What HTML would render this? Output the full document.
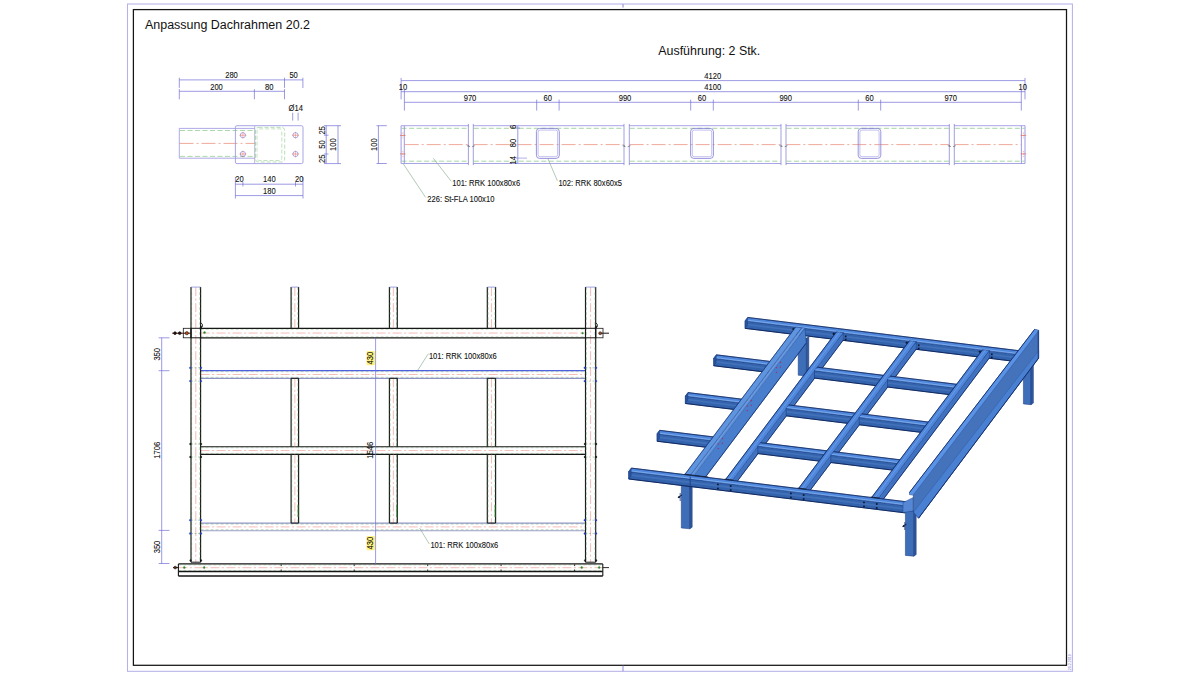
<!DOCTYPE html>
<html><head><meta charset="utf-8"><title>Anpassung Dachrahmen 20.2</title>
<style>
html,body{margin:0;padding:0;background:#fff;overflow:hidden}
svg{display:block;font-family:"Liberation Sans",sans-serif}
</style></head><body>
<svg width="1200" height="675" viewBox="0 0 1200 675">
<rect width="1200" height="675" fill="#fff"/>
<rect x="127.50" y="4.00" width="944.90" height="667.30" rx="0" fill="none" stroke="#b6b1e8" stroke-width="1.05"/>
<rect x="133.40" y="9.60" width="933.10" height="655.70" rx="0" fill="none" stroke="#151515" stroke-width="1.25"/>
<line x1="623.00" y1="665.60" x2="623.00" y2="671.20" stroke="#8f89d8" stroke-width="1.0"/>
<line x1="623.00" y1="4.00" x2="623.00" y2="7.60" stroke="#8f89d8" stroke-width="1.0"/>
<text transform="translate(1070.70 670.20) rotate(-90)" font-size="3.6" text-anchor="start" fill="#6f68cc">20.2.2019</text>
<text transform="translate(145.00 29.20)" font-size="12.48" text-anchor="start" fill="#111">Anpassung Dachrahmen 20.2</text>
<text transform="translate(658.30 55.00)" font-size="12.4" text-anchor="start" fill="#111">Ausf&#252;hrung: 2 Stk.</text>
<line x1="179.30" y1="79.90" x2="284.50" y2="79.90" stroke="#6f6ad6" stroke-width="0.68"/>
<line x1="179.30" y1="77.70" x2="179.30" y2="87.90" stroke="#6f6ad6" stroke-width="0.68"/>
<line x1="284.50" y1="77.70" x2="284.50" y2="87.90" stroke="#6f6ad6" stroke-width="0.68"/>
<line x1="284.50" y1="79.90" x2="302.90" y2="79.90" stroke="#6f6ad6" stroke-width="0.68"/>
<line x1="302.90" y1="77.70" x2="302.90" y2="88.00" stroke="#6f6ad6" stroke-width="0.68"/>
<text transform="translate(231.50 78.20) scale(0.853 1)" font-size="8.9" text-anchor="middle" fill="#111" stroke="#111" stroke-width="0.1">280</text>
<text transform="translate(293.60 78.20) scale(0.853 1)" font-size="8.9" text-anchor="middle" fill="#111" stroke="#111" stroke-width="0.1">50</text>
<line x1="179.30" y1="91.30" x2="284.50" y2="91.30" stroke="#6f6ad6" stroke-width="0.68"/>
<line x1="179.30" y1="89.10" x2="179.30" y2="99.30" stroke="#6f6ad6" stroke-width="0.68"/>
<line x1="284.50" y1="89.10" x2="284.50" y2="99.30" stroke="#6f6ad6" stroke-width="0.68"/>
<line x1="254.40" y1="89.10" x2="254.40" y2="99.30" stroke="#6f6ad6" stroke-width="0.68"/>
<text transform="translate(216.50 89.60) scale(0.853 1)" font-size="8.9" text-anchor="middle" fill="#111" stroke="#111" stroke-width="0.1">200</text>
<text transform="translate(269.30 89.60) scale(0.853 1)" font-size="8.9" text-anchor="middle" fill="#111" stroke="#111" stroke-width="0.1">80</text>
<text transform="translate(295.70 110.80) scale(0.853 1)" font-size="8.9" text-anchor="middle" fill="#111" stroke="#111" stroke-width="0.1">&#216;14</text>
<line x1="292.70" y1="112.70" x2="292.70" y2="120.60" stroke="#6f6ad6" stroke-width="0.68"/>
<line x1="298.10" y1="112.70" x2="298.10" y2="120.60" stroke="#6f6ad6" stroke-width="0.68"/>
<line x1="179.30" y1="128.40" x2="254.70" y2="128.40" stroke="#928de0" stroke-width="0.75"/>
<line x1="179.30" y1="158.20" x2="254.70" y2="158.20" stroke="#928de0" stroke-width="0.75"/>
<line x1="179.30" y1="128.40" x2="179.30" y2="158.20" stroke="#928de0" stroke-width="0.75"/>
<line x1="180.00" y1="130.50" x2="255.00" y2="130.50" stroke="#4fae4a" stroke-width="0.6" stroke-dasharray="5 2.5" stroke-opacity="0.8"/>
<line x1="180.00" y1="156.40" x2="255.00" y2="156.40" stroke="#4fae4a" stroke-width="0.6" stroke-dasharray="5 2.5" stroke-opacity="0.8"/>
<line x1="179.50" y1="143.40" x2="255.00" y2="143.40" stroke="#e0563a" stroke-width="0.6" stroke-dasharray="14 3 2 3" stroke-opacity="0.85"/>
<rect x="235.40" y="125.70" width="67.60" height="37.90" rx="1.6" fill="none" stroke="#9a95e2" stroke-width="0.85"/>
<line x1="254.70" y1="126.00" x2="254.70" y2="163.30" stroke="#9a98c8" stroke-width="0.7"/>
<rect x="255.50" y="127.40" width="29.20" height="34.60" rx="3" fill="none" stroke="#4fae4a" stroke-width="0.5" stroke-dasharray="4 2" stroke-opacity="0.8"/>
<rect x="257.00" y="128.90" width="24.80" height="31.60" rx="2.2" fill="none" stroke="#4fae4a" stroke-width="0.5" stroke-dasharray="4 2" stroke-opacity="0.7"/>
<circle cx="242.90" cy="135.20" r="2.6" fill="none" stroke="#7a74d8" stroke-width="0.6"/>
<line x1="239.50" y1="135.20" x2="246.30" y2="135.20" stroke="#e0563a" stroke-width="0.5"/>
<line x1="242.90" y1="131.80" x2="242.90" y2="138.60" stroke="#e0563a" stroke-width="0.5" stroke-opacity="0.7"/>
<circle cx="242.90" cy="154.00" r="2.6" fill="none" stroke="#7a74d8" stroke-width="0.6"/>
<line x1="239.50" y1="154.00" x2="246.30" y2="154.00" stroke="#e0563a" stroke-width="0.5"/>
<line x1="242.90" y1="150.60" x2="242.90" y2="157.40" stroke="#e0563a" stroke-width="0.5" stroke-opacity="0.7"/>
<circle cx="295.50" cy="135.20" r="2.6" fill="none" stroke="#7a74d8" stroke-width="0.6"/>
<line x1="292.10" y1="135.20" x2="298.90" y2="135.20" stroke="#e0563a" stroke-width="0.5"/>
<line x1="295.50" y1="131.80" x2="295.50" y2="138.60" stroke="#e0563a" stroke-width="0.5" stroke-opacity="0.7"/>
<circle cx="295.50" cy="154.00" r="2.6" fill="none" stroke="#7a74d8" stroke-width="0.6"/>
<line x1="292.10" y1="154.00" x2="298.90" y2="154.00" stroke="#e0563a" stroke-width="0.5"/>
<line x1="295.50" y1="150.60" x2="295.50" y2="157.40" stroke="#e0563a" stroke-width="0.5" stroke-opacity="0.7"/>
<line x1="324.00" y1="125.70" x2="341.00" y2="125.70" stroke="#6f6ad6" stroke-width="0.68"/>
<line x1="324.00" y1="163.60" x2="341.00" y2="163.60" stroke="#6f6ad6" stroke-width="0.68"/>
<line x1="326.20" y1="125.70" x2="326.20" y2="163.60" stroke="#6f6ad6" stroke-width="0.68"/>
<line x1="338.00" y1="125.70" x2="338.00" y2="163.60" stroke="#6f6ad6" stroke-width="0.68"/>
<line x1="324.00" y1="135.20" x2="328.50" y2="135.20" stroke="#6f6ad6" stroke-width="0.68"/>
<line x1="324.00" y1="154.00" x2="328.50" y2="154.00" stroke="#6f6ad6" stroke-width="0.68"/>
<text transform="translate(324.60 130.40) rotate(-90) scale(0.853 1)" font-size="8.9" text-anchor="middle" fill="#111" stroke="#111" stroke-width="0.1">25</text>
<text transform="translate(324.60 144.60) rotate(-90) scale(0.853 1)" font-size="8.9" text-anchor="middle" fill="#111" stroke="#111" stroke-width="0.1">50</text>
<text transform="translate(324.60 158.80) rotate(-90) scale(0.853 1)" font-size="8.9" text-anchor="middle" fill="#111" stroke="#111" stroke-width="0.1">25</text>
<text transform="translate(336.30 144.60) rotate(-90) scale(0.853 1)" font-size="8.9" text-anchor="middle" fill="#111" stroke="#111" stroke-width="0.1">100</text>
<line x1="235.40" y1="184.20" x2="303.00" y2="184.20" stroke="#6f6ad6" stroke-width="0.68"/>
<line x1="235.40" y1="177.00" x2="235.40" y2="198.50" stroke="#6f6ad6" stroke-width="0.68"/>
<line x1="303.00" y1="177.00" x2="303.00" y2="198.50" stroke="#6f6ad6" stroke-width="0.68"/>
<line x1="242.90" y1="182.00" x2="242.90" y2="186.50" stroke="#6f6ad6" stroke-width="0.68"/>
<line x1="295.50" y1="182.00" x2="295.50" y2="186.50" stroke="#6f6ad6" stroke-width="0.68"/>
<text transform="translate(239.40 182.40) scale(0.853 1)" font-size="8.9" text-anchor="middle" fill="#111" stroke="#111" stroke-width="0.1">20</text>
<text transform="translate(269.40 182.40) scale(0.853 1)" font-size="8.9" text-anchor="middle" fill="#111" stroke="#111" stroke-width="0.1">140</text>
<text transform="translate(299.20 182.40) scale(0.853 1)" font-size="8.9" text-anchor="middle" fill="#111" stroke="#111" stroke-width="0.1">20</text>
<line x1="235.40" y1="195.60" x2="303.00" y2="195.60" stroke="#6f6ad6" stroke-width="0.68"/>
<text transform="translate(269.40 193.80) scale(0.853 1)" font-size="8.9" text-anchor="middle" fill="#111" stroke="#111" stroke-width="0.1">180</text>
<line x1="401.10" y1="80.60" x2="1025.00" y2="80.60" stroke="#6f6ad6" stroke-width="0.68"/>
<line x1="401.10" y1="77.90" x2="401.10" y2="99.40" stroke="#6f6ad6" stroke-width="0.68"/>
<line x1="1025.00" y1="77.90" x2="1025.00" y2="99.40" stroke="#6f6ad6" stroke-width="0.68"/>
<text transform="translate(712.70 78.90) scale(0.853 1)" font-size="8.9" text-anchor="middle" fill="#111" stroke="#111" stroke-width="0.1">4120</text>
<line x1="401.10" y1="91.70" x2="1025.00" y2="91.70" stroke="#6f6ad6" stroke-width="0.68"/>
<text transform="translate(712.70 90.20) scale(0.853 1)" font-size="8.9" text-anchor="middle" fill="#111" stroke="#111" stroke-width="0.1">4100</text>
<text transform="translate(402.90 90.20) scale(0.853 1)" font-size="8.9" text-anchor="middle" fill="#111" stroke="#111" stroke-width="0.1">10</text>
<text transform="translate(1022.70 90.20) scale(0.853 1)" font-size="8.9" text-anchor="middle" fill="#111" stroke="#111" stroke-width="0.1">10</text>
<line x1="404.40" y1="89.00" x2="404.40" y2="110.60" stroke="#6f6ad6" stroke-width="0.68"/>
<line x1="1021.30" y1="89.00" x2="1021.30" y2="110.60" stroke="#6f6ad6" stroke-width="0.68"/>
<line x1="404.40" y1="102.30" x2="1021.30" y2="102.30" stroke="#6f6ad6" stroke-width="0.68"/>
<line x1="536.70" y1="99.60" x2="536.70" y2="110.60" stroke="#6f6ad6" stroke-width="0.68"/>
<line x1="559.10" y1="99.60" x2="559.10" y2="110.60" stroke="#6f6ad6" stroke-width="0.68"/>
<line x1="690.70" y1="99.60" x2="690.70" y2="110.60" stroke="#6f6ad6" stroke-width="0.68"/>
<line x1="713.30" y1="99.60" x2="713.30" y2="110.60" stroke="#6f6ad6" stroke-width="0.68"/>
<line x1="858.30" y1="99.60" x2="858.30" y2="110.60" stroke="#6f6ad6" stroke-width="0.68"/>
<line x1="880.70" y1="99.60" x2="880.70" y2="110.60" stroke="#6f6ad6" stroke-width="0.68"/>
<text transform="translate(470.00 100.70) scale(0.853 1)" font-size="8.9" text-anchor="middle" fill="#111" stroke="#111" stroke-width="0.1">970</text>
<text transform="translate(547.80 100.70) scale(0.853 1)" font-size="8.9" text-anchor="middle" fill="#111" stroke="#111" stroke-width="0.1">60</text>
<text transform="translate(625.00 100.70) scale(0.853 1)" font-size="8.9" text-anchor="middle" fill="#111" stroke="#111" stroke-width="0.1">990</text>
<text transform="translate(702.00 100.70) scale(0.853 1)" font-size="8.9" text-anchor="middle" fill="#111" stroke="#111" stroke-width="0.1">60</text>
<text transform="translate(785.70 100.70) scale(0.853 1)" font-size="8.9" text-anchor="middle" fill="#111" stroke="#111" stroke-width="0.1">990</text>
<text transform="translate(869.40 100.70) scale(0.853 1)" font-size="8.9" text-anchor="middle" fill="#111" stroke="#111" stroke-width="0.1">60</text>
<text transform="translate(950.70 100.70) scale(0.853 1)" font-size="8.9" text-anchor="middle" fill="#111" stroke="#111" stroke-width="0.1">970</text>
<line x1="401.10" y1="125.70" x2="468.40" y2="125.70" stroke="#928de0" stroke-width="0.8"/>
<line x1="401.10" y1="163.50" x2="468.40" y2="163.50" stroke="#928de0" stroke-width="0.8"/>
<line x1="401.60" y1="128.30" x2="467.90" y2="128.30" stroke="#4fae4a" stroke-width="0.6" stroke-dasharray="5 2.5" stroke-opacity="0.85"/>
<line x1="401.60" y1="161.20" x2="467.90" y2="161.20" stroke="#4fae4a" stroke-width="0.6" stroke-dasharray="5 2.5" stroke-opacity="0.85"/>
<line x1="404.70" y1="144.60" x2="468.10" y2="144.60" stroke="#e0563a" stroke-width="0.6" stroke-dasharray="14 3 2 3" stroke-opacity="0.85"/>
<line x1="473.30" y1="125.70" x2="624.00" y2="125.70" stroke="#928de0" stroke-width="0.8"/>
<line x1="473.30" y1="163.50" x2="624.00" y2="163.50" stroke="#928de0" stroke-width="0.8"/>
<line x1="473.80" y1="128.30" x2="623.50" y2="128.30" stroke="#4fae4a" stroke-width="0.6" stroke-dasharray="5 2.5" stroke-opacity="0.85"/>
<line x1="473.80" y1="161.20" x2="623.50" y2="161.20" stroke="#4fae4a" stroke-width="0.6" stroke-dasharray="5 2.5" stroke-opacity="0.85"/>
<line x1="473.60" y1="144.60" x2="623.70" y2="144.60" stroke="#e0563a" stroke-width="0.6" stroke-dasharray="14 3 2 3" stroke-opacity="0.85"/>
<line x1="629.30" y1="125.70" x2="781.00" y2="125.70" stroke="#928de0" stroke-width="0.8"/>
<line x1="629.30" y1="163.50" x2="781.00" y2="163.50" stroke="#928de0" stroke-width="0.8"/>
<line x1="629.80" y1="128.30" x2="780.50" y2="128.30" stroke="#4fae4a" stroke-width="0.6" stroke-dasharray="5 2.5" stroke-opacity="0.85"/>
<line x1="629.80" y1="161.20" x2="780.50" y2="161.20" stroke="#4fae4a" stroke-width="0.6" stroke-dasharray="5 2.5" stroke-opacity="0.85"/>
<line x1="629.60" y1="144.60" x2="780.70" y2="144.60" stroke="#e0563a" stroke-width="0.6" stroke-dasharray="14 3 2 3" stroke-opacity="0.85"/>
<line x1="786.00" y1="125.70" x2="949.30" y2="125.70" stroke="#928de0" stroke-width="0.8"/>
<line x1="786.00" y1="163.50" x2="949.30" y2="163.50" stroke="#928de0" stroke-width="0.8"/>
<line x1="786.50" y1="128.30" x2="948.80" y2="128.30" stroke="#4fae4a" stroke-width="0.6" stroke-dasharray="5 2.5" stroke-opacity="0.85"/>
<line x1="786.50" y1="161.20" x2="948.80" y2="161.20" stroke="#4fae4a" stroke-width="0.6" stroke-dasharray="5 2.5" stroke-opacity="0.85"/>
<line x1="786.30" y1="144.60" x2="949.00" y2="144.60" stroke="#e0563a" stroke-width="0.6" stroke-dasharray="14 3 2 3" stroke-opacity="0.85"/>
<line x1="954.30" y1="125.70" x2="1025.00" y2="125.70" stroke="#928de0" stroke-width="0.8"/>
<line x1="954.30" y1="163.50" x2="1025.00" y2="163.50" stroke="#928de0" stroke-width="0.8"/>
<line x1="954.80" y1="128.30" x2="1024.50" y2="128.30" stroke="#4fae4a" stroke-width="0.6" stroke-dasharray="5 2.5" stroke-opacity="0.85"/>
<line x1="954.80" y1="161.20" x2="1024.50" y2="161.20" stroke="#4fae4a" stroke-width="0.6" stroke-dasharray="5 2.5" stroke-opacity="0.85"/>
<line x1="954.60" y1="144.60" x2="1021.00" y2="144.60" stroke="#e0563a" stroke-width="0.6" stroke-dasharray="14 3 2 3" stroke-opacity="0.85"/>
<line x1="468.40" y1="123.90" x2="468.40" y2="165.20" stroke="#7a76d2" stroke-width="0.7"/>
<line x1="473.30" y1="123.90" x2="473.30" y2="165.20" stroke="#7a76d2" stroke-width="0.7"/>
<line x1="624.00" y1="123.90" x2="624.00" y2="165.20" stroke="#7a76d2" stroke-width="0.7"/>
<line x1="629.30" y1="123.90" x2="629.30" y2="165.20" stroke="#7a76d2" stroke-width="0.7"/>
<line x1="781.00" y1="123.90" x2="781.00" y2="165.20" stroke="#7a76d2" stroke-width="0.7"/>
<line x1="786.00" y1="123.90" x2="786.00" y2="165.20" stroke="#7a76d2" stroke-width="0.7"/>
<line x1="949.30" y1="123.90" x2="949.30" y2="165.20" stroke="#7a76d2" stroke-width="0.7"/>
<line x1="954.30" y1="123.90" x2="954.30" y2="165.20" stroke="#7a76d2" stroke-width="0.7"/>
<path d="M466.9 145.6 L469.59999999999997 146.6 L468.7 145.4 M472.09999999999997 146.8 L474.79999999999995 145.6" fill="none" stroke="#333" stroke-width="0.5"/>
<path d="M622.5 145.6 L625.2 146.6 L624.3 145.4 M627.7 146.8 L630.4 145.6" fill="none" stroke="#333" stroke-width="0.5"/>
<path d="M779.5 145.6 L782.2 146.6 L781.3 145.4 M784.7 146.8 L787.4 145.6" fill="none" stroke="#333" stroke-width="0.5"/>
<path d="M947.8 145.6 L950.5 146.6 L949.5999999999999 145.4 M953.0 146.8 L955.6999999999999 145.6" fill="none" stroke="#333" stroke-width="0.5"/>
<line x1="401.10" y1="125.70" x2="401.10" y2="163.50" stroke="#928de0" stroke-width="0.9"/>
<line x1="404.30" y1="125.70" x2="404.30" y2="163.50" stroke="#928de0" stroke-width="0.9"/>
<line x1="1025.00" y1="125.70" x2="1025.00" y2="163.50" stroke="#928de0" stroke-width="0.9"/>
<line x1="1021.40" y1="125.70" x2="1021.40" y2="163.50" stroke="#928de0" stroke-width="0.9"/>
<line x1="400.00" y1="135.40" x2="405.60" y2="135.40" stroke="#e0563a" stroke-width="0.6"/>
<line x1="402.80" y1="132.40" x2="402.80" y2="138.40" stroke="#e0563a" stroke-width="0.5" stroke-dasharray="1.5 1" stroke-opacity="0.8"/>
<line x1="400.00" y1="153.90" x2="405.60" y2="153.90" stroke="#e0563a" stroke-width="0.6"/>
<line x1="402.80" y1="150.90" x2="402.80" y2="156.90" stroke="#e0563a" stroke-width="0.5" stroke-dasharray="1.5 1" stroke-opacity="0.8"/>
<line x1="1020.60" y1="135.40" x2="1026.20" y2="135.40" stroke="#e0563a" stroke-width="0.6"/>
<line x1="1023.40" y1="132.40" x2="1023.40" y2="138.40" stroke="#e0563a" stroke-width="0.5" stroke-dasharray="1.5 1" stroke-opacity="0.8"/>
<line x1="1020.60" y1="153.90" x2="1026.20" y2="153.90" stroke="#e0563a" stroke-width="0.6"/>
<line x1="1023.40" y1="150.90" x2="1023.40" y2="156.90" stroke="#e0563a" stroke-width="0.5" stroke-dasharray="1.5 1" stroke-opacity="0.8"/>
<rect x="536.40" y="128.40" width="22.90" height="30.00" rx="3.2" fill="none" stroke="#7d78d6" stroke-width="0.8"/>
<rect x="538.10" y="130.10" width="19.50" height="26.60" rx="2.0" fill="none" stroke="#9a96e0" stroke-width="0.6"/>
<rect x="690.60" y="128.40" width="22.80" height="30.00" rx="3.2" fill="none" stroke="#7d78d6" stroke-width="0.8"/>
<rect x="692.30" y="130.10" width="19.40" height="26.60" rx="2.0" fill="none" stroke="#9a96e0" stroke-width="0.6"/>
<rect x="858.20" y="128.40" width="22.60" height="30.00" rx="3.2" fill="none" stroke="#7d78d6" stroke-width="0.8"/>
<rect x="859.90" y="130.10" width="19.20" height="26.60" rx="2.0" fill="none" stroke="#9a96e0" stroke-width="0.6"/>
<line x1="378.40" y1="125.70" x2="378.40" y2="163.50" stroke="#6f6ad6" stroke-width="0.68"/>
<line x1="376.50" y1="125.70" x2="386.80" y2="125.70" stroke="#6f6ad6" stroke-width="0.68"/>
<line x1="376.50" y1="163.50" x2="386.80" y2="163.50" stroke="#6f6ad6" stroke-width="0.68"/>
<text transform="translate(377.00 144.60) rotate(-90) scale(0.853 1)" font-size="8.9" text-anchor="middle" fill="#111" stroke="#111" stroke-width="0.1">100</text>
<line x1="517.80" y1="125.70" x2="517.80" y2="163.50" stroke="#6f6ad6" stroke-width="0.68"/>
<line x1="516.00" y1="128.10" x2="520.00" y2="128.10" stroke="#6f6ad6" stroke-width="0.68"/>
<line x1="516.00" y1="158.10" x2="527.00" y2="158.10" stroke="#928de0" stroke-width="0.7"/>
<text transform="translate(516.30 126.90) rotate(-90) scale(0.853 1)" font-size="8.9" text-anchor="middle" fill="#111" stroke="#111" stroke-width="0.1">6</text>
<text transform="translate(516.30 143.00) rotate(-90) scale(0.853 1)" font-size="8.9" text-anchor="middle" fill="#111" stroke="#111" stroke-width="0.1">80</text>
<text transform="translate(516.30 160.20) rotate(-90) scale(0.853 1)" font-size="8.9" text-anchor="middle" fill="#111" stroke="#111" stroke-width="0.1">14</text>
<line x1="433.30" y1="158.30" x2="451.20" y2="181.20" stroke="#7da58a" stroke-width="0.6"/>
<text transform="translate(452.20 186.20) scale(0.853 1)" font-size="8.9" text-anchor="start" fill="#111" stroke="#111" stroke-width="0.1">101: RRK 100x80x6</text>
<line x1="403.30" y1="163.90" x2="425.60" y2="197.40" stroke="#7da58a" stroke-width="0.6"/>
<text transform="translate(427.30 202.40) scale(0.853 1)" font-size="8.9" text-anchor="start" fill="#111" stroke="#111" stroke-width="0.1">226: St-FLA 100x10</text>
<line x1="547.80" y1="158.40" x2="557.40" y2="180.80" stroke="#7da58a" stroke-width="0.6"/>
<text transform="translate(558.40 186.20) scale(0.853 1)" font-size="8.9" text-anchor="start" fill="#111" stroke="#111" stroke-width="0.1">102: RRK 80x60x5</text>
<line x1="200.60" y1="328.30" x2="585.50" y2="328.30" stroke="#161616" stroke-width="1.15"/>
<line x1="200.60" y1="337.80" x2="585.50" y2="337.80" stroke="#161616" stroke-width="1.15"/>
<line x1="200.60" y1="329.30" x2="585.50" y2="329.30" stroke="#3f7f3f" stroke-width="0.5" stroke-dasharray="3 2" stroke-opacity="0.6"/>
<line x1="200.60" y1="336.80" x2="585.50" y2="336.80" stroke="#3f7f3f" stroke-width="0.5" stroke-dasharray="3 2" stroke-opacity="0.6"/>
<line x1="200.60" y1="333.05" x2="585.50" y2="333.05" stroke="#e8857a" stroke-width="0.6" stroke-dasharray="9 2.5 2 2.5" stroke-opacity="0.9"/>
<line x1="200.60" y1="370.70" x2="585.50" y2="370.70" stroke="#4e5fe0" stroke-width="1.3"/>
<line x1="200.60" y1="378.30" x2="585.50" y2="378.30" stroke="#8c93c4" stroke-width="1.15"/>
<line x1="200.60" y1="371.70" x2="585.50" y2="371.70" stroke="#3f7f3f" stroke-width="0.5" stroke-dasharray="3 2" stroke-opacity="0.6"/>
<line x1="200.60" y1="377.30" x2="585.50" y2="377.30" stroke="#3f7f3f" stroke-width="0.5" stroke-dasharray="3 2" stroke-opacity="0.6"/>
<line x1="200.60" y1="374.50" x2="585.50" y2="374.50" stroke="#e8857a" stroke-width="0.6" stroke-dasharray="9 2.5 2 2.5" stroke-opacity="0.9"/>
<line x1="200.60" y1="446.70" x2="585.50" y2="446.70" stroke="#161616" stroke-width="1.15"/>
<line x1="200.60" y1="454.40" x2="585.50" y2="454.40" stroke="#161616" stroke-width="1.15"/>
<line x1="200.60" y1="447.70" x2="585.50" y2="447.70" stroke="#3f7f3f" stroke-width="0.5" stroke-dasharray="3 2" stroke-opacity="0.6"/>
<line x1="200.60" y1="453.40" x2="585.50" y2="453.40" stroke="#3f7f3f" stroke-width="0.5" stroke-dasharray="3 2" stroke-opacity="0.6"/>
<line x1="200.60" y1="450.55" x2="585.50" y2="450.55" stroke="#e8857a" stroke-width="0.6" stroke-dasharray="9 2.5 2 2.5" stroke-opacity="0.9"/>
<line x1="200.60" y1="523.10" x2="585.50" y2="523.10" stroke="#8f97c6" stroke-width="1.15"/>
<line x1="200.60" y1="530.70" x2="585.50" y2="530.70" stroke="#9aa0c8" stroke-width="1.15"/>
<line x1="200.60" y1="524.10" x2="585.50" y2="524.10" stroke="#3f7f3f" stroke-width="0.5" stroke-dasharray="3 2" stroke-opacity="0.6"/>
<line x1="200.60" y1="529.70" x2="585.50" y2="529.70" stroke="#3f7f3f" stroke-width="0.5" stroke-dasharray="3 2" stroke-opacity="0.6"/>
<line x1="200.60" y1="526.90" x2="585.50" y2="526.90" stroke="#e8857a" stroke-width="0.6" stroke-dasharray="9 2.5 2 2.5" stroke-opacity="0.9"/>
<line x1="178.40" y1="563.90" x2="602.80" y2="563.90" stroke="#161616" stroke-width="1.3"/>
<line x1="178.40" y1="571.50" x2="602.80" y2="571.50" stroke="#161616" stroke-width="1.3"/>
<line x1="178.40" y1="564.90" x2="602.80" y2="564.90" stroke="#3f7f3f" stroke-width="0.5" stroke-dasharray="3 2" stroke-opacity="0.6"/>
<line x1="178.40" y1="570.50" x2="602.80" y2="570.50" stroke="#3f7f3f" stroke-width="0.5" stroke-dasharray="3 2" stroke-opacity="0.6"/>
<line x1="178.40" y1="567.70" x2="602.80" y2="567.70" stroke="#e8857a" stroke-width="0.6" stroke-dasharray="9 2.5 2 2.5" stroke-opacity="0.9"/>
<line x1="178.40" y1="563.90" x2="178.40" y2="576.00" stroke="#161616" stroke-width="1.1"/>
<line x1="602.80" y1="563.90" x2="602.80" y2="576.00" stroke="#161616" stroke-width="1.1"/>
<line x1="178.40" y1="576.00" x2="602.80" y2="576.00" stroke="#161616" stroke-width="1.35"/>
<line x1="281.20" y1="564.40" x2="281.20" y2="566.10" stroke="#161616" stroke-width="0.9"/>
<line x1="281.20" y1="569.50" x2="281.20" y2="571.50" stroke="#161616" stroke-width="0.9"/>
<line x1="354.20" y1="564.40" x2="354.20" y2="566.10" stroke="#161616" stroke-width="0.9"/>
<line x1="354.20" y1="569.50" x2="354.20" y2="571.50" stroke="#161616" stroke-width="0.9"/>
<line x1="427.70" y1="564.40" x2="427.70" y2="566.10" stroke="#161616" stroke-width="0.9"/>
<line x1="427.70" y1="569.50" x2="427.70" y2="571.50" stroke="#161616" stroke-width="0.9"/>
<line x1="501.10" y1="564.40" x2="501.10" y2="566.10" stroke="#161616" stroke-width="0.9"/>
<line x1="501.10" y1="569.50" x2="501.10" y2="571.50" stroke="#161616" stroke-width="0.9"/>
<line x1="574.60" y1="564.40" x2="574.60" y2="566.10" stroke="#161616" stroke-width="0.9"/>
<line x1="574.60" y1="569.50" x2="574.60" y2="571.50" stroke="#161616" stroke-width="0.9"/>
<line x1="191.00" y1="287.10" x2="191.00" y2="562.20" stroke="#161616" stroke-width="1.15"/>
<line x1="200.60" y1="287.10" x2="200.60" y2="562.20" stroke="#161616" stroke-width="1.15"/>
<line x1="191.60" y1="287.10" x2="191.60" y2="562.20" stroke="#3f7f3f" stroke-width="0.6" stroke-dasharray="3 2" stroke-opacity="0.8"/>
<line x1="200.00" y1="287.10" x2="200.00" y2="562.20" stroke="#3f7f3f" stroke-width="0.6" stroke-dasharray="3 2" stroke-opacity="0.8"/>
<line x1="195.80" y1="287.10" x2="195.80" y2="562.20" stroke="#e8857a" stroke-width="0.6" stroke-dasharray="9 2.5 2 2.5" stroke-opacity="0.9"/>
<line x1="191.00" y1="287.10" x2="200.60" y2="287.10" stroke="#7b7fd8" stroke-width="0.7"/>
<line x1="191.00" y1="562.20" x2="200.60" y2="562.20" stroke="#161616" stroke-width="1.0"/>
<line x1="585.50" y1="287.10" x2="585.50" y2="562.20" stroke="#161616" stroke-width="1.15"/>
<line x1="595.70" y1="287.10" x2="595.70" y2="562.20" stroke="#161616" stroke-width="1.15"/>
<line x1="586.10" y1="287.10" x2="586.10" y2="562.20" stroke="#3f7f3f" stroke-width="0.6" stroke-dasharray="3 2" stroke-opacity="0.8"/>
<line x1="595.10" y1="287.10" x2="595.10" y2="562.20" stroke="#3f7f3f" stroke-width="0.6" stroke-dasharray="3 2" stroke-opacity="0.8"/>
<line x1="590.60" y1="287.10" x2="590.60" y2="562.20" stroke="#e8857a" stroke-width="0.6" stroke-dasharray="9 2.5 2 2.5" stroke-opacity="0.9"/>
<line x1="585.50" y1="287.10" x2="595.70" y2="287.10" stroke="#7b7fd8" stroke-width="0.7"/>
<line x1="585.50" y1="562.20" x2="595.70" y2="562.20" stroke="#161616" stroke-width="1.0"/>
<line x1="291.10" y1="287.10" x2="291.10" y2="328.30" stroke="#161616" stroke-width="1.15"/>
<line x1="298.60" y1="287.10" x2="298.60" y2="328.30" stroke="#161616" stroke-width="1.15"/>
<line x1="291.70" y1="287.10" x2="291.70" y2="328.30" stroke="#3f7f3f" stroke-width="0.6" stroke-dasharray="3 2" stroke-opacity="0.8"/>
<line x1="298.00" y1="287.10" x2="298.00" y2="328.30" stroke="#3f7f3f" stroke-width="0.6" stroke-dasharray="3 2" stroke-opacity="0.8"/>
<line x1="294.85" y1="287.10" x2="294.85" y2="328.30" stroke="#e8857a" stroke-width="0.6" stroke-dasharray="9 2.5 2 2.5" stroke-opacity="0.9"/>
<line x1="291.10" y1="287.10" x2="298.60" y2="287.10" stroke="#7b7fd8" stroke-width="0.7"/>
<line x1="291.10" y1="378.30" x2="291.10" y2="446.70" stroke="#161616" stroke-width="1.15"/>
<line x1="298.60" y1="378.30" x2="298.60" y2="446.70" stroke="#161616" stroke-width="1.15"/>
<line x1="291.70" y1="378.30" x2="291.70" y2="446.70" stroke="#3f7f3f" stroke-width="0.6" stroke-dasharray="3 2" stroke-opacity="0.8"/>
<line x1="298.00" y1="378.30" x2="298.00" y2="446.70" stroke="#3f7f3f" stroke-width="0.6" stroke-dasharray="3 2" stroke-opacity="0.8"/>
<line x1="294.85" y1="378.30" x2="294.85" y2="446.70" stroke="#e8857a" stroke-width="0.6" stroke-dasharray="9 2.5 2 2.5" stroke-opacity="0.9"/>
<line x1="291.10" y1="378.30" x2="298.60" y2="378.30" stroke="#161616" stroke-width="1.0"/>
<line x1="291.10" y1="454.40" x2="291.10" y2="523.10" stroke="#161616" stroke-width="1.15"/>
<line x1="298.60" y1="454.40" x2="298.60" y2="523.10" stroke="#161616" stroke-width="1.15"/>
<line x1="291.70" y1="454.40" x2="291.70" y2="523.10" stroke="#3f7f3f" stroke-width="0.6" stroke-dasharray="3 2" stroke-opacity="0.8"/>
<line x1="298.00" y1="454.40" x2="298.00" y2="523.10" stroke="#3f7f3f" stroke-width="0.6" stroke-dasharray="3 2" stroke-opacity="0.8"/>
<line x1="294.85" y1="454.40" x2="294.85" y2="523.10" stroke="#e8857a" stroke-width="0.6" stroke-dasharray="9 2.5 2 2.5" stroke-opacity="0.9"/>
<line x1="291.10" y1="523.10" x2="298.60" y2="523.10" stroke="#161616" stroke-width="1.0"/>
<line x1="298.00" y1="505.00" x2="298.00" y2="517.00" stroke="#2f9a2f" stroke-width="0.7"/>
<line x1="389.40" y1="287.10" x2="389.40" y2="328.30" stroke="#161616" stroke-width="1.15"/>
<line x1="397.30" y1="287.10" x2="397.30" y2="328.30" stroke="#161616" stroke-width="1.15"/>
<line x1="390.00" y1="287.10" x2="390.00" y2="328.30" stroke="#3f7f3f" stroke-width="0.6" stroke-dasharray="3 2" stroke-opacity="0.8"/>
<line x1="396.70" y1="287.10" x2="396.70" y2="328.30" stroke="#3f7f3f" stroke-width="0.6" stroke-dasharray="3 2" stroke-opacity="0.8"/>
<line x1="393.35" y1="287.10" x2="393.35" y2="328.30" stroke="#e8857a" stroke-width="0.6" stroke-dasharray="9 2.5 2 2.5" stroke-opacity="0.9"/>
<line x1="389.40" y1="287.10" x2="397.30" y2="287.10" stroke="#7b7fd8" stroke-width="0.7"/>
<line x1="389.40" y1="378.30" x2="389.40" y2="446.70" stroke="#161616" stroke-width="1.15"/>
<line x1="397.30" y1="378.30" x2="397.30" y2="446.70" stroke="#161616" stroke-width="1.15"/>
<line x1="390.00" y1="378.30" x2="390.00" y2="446.70" stroke="#3f7f3f" stroke-width="0.6" stroke-dasharray="3 2" stroke-opacity="0.8"/>
<line x1="396.70" y1="378.30" x2="396.70" y2="446.70" stroke="#3f7f3f" stroke-width="0.6" stroke-dasharray="3 2" stroke-opacity="0.8"/>
<line x1="393.35" y1="378.30" x2="393.35" y2="446.70" stroke="#e8857a" stroke-width="0.6" stroke-dasharray="9 2.5 2 2.5" stroke-opacity="0.9"/>
<line x1="389.40" y1="378.30" x2="397.30" y2="378.30" stroke="#161616" stroke-width="1.0"/>
<line x1="389.40" y1="454.40" x2="389.40" y2="523.10" stroke="#161616" stroke-width="1.15"/>
<line x1="397.30" y1="454.40" x2="397.30" y2="523.10" stroke="#161616" stroke-width="1.15"/>
<line x1="390.00" y1="454.40" x2="390.00" y2="523.10" stroke="#3f7f3f" stroke-width="0.6" stroke-dasharray="3 2" stroke-opacity="0.8"/>
<line x1="396.70" y1="454.40" x2="396.70" y2="523.10" stroke="#3f7f3f" stroke-width="0.6" stroke-dasharray="3 2" stroke-opacity="0.8"/>
<line x1="393.35" y1="454.40" x2="393.35" y2="523.10" stroke="#e8857a" stroke-width="0.6" stroke-dasharray="9 2.5 2 2.5" stroke-opacity="0.9"/>
<line x1="389.40" y1="523.10" x2="397.30" y2="523.10" stroke="#161616" stroke-width="1.0"/>
<line x1="396.70" y1="505.00" x2="396.70" y2="517.00" stroke="#2f9a2f" stroke-width="0.7"/>
<line x1="487.30" y1="287.10" x2="487.30" y2="328.30" stroke="#161616" stroke-width="1.15"/>
<line x1="495.60" y1="287.10" x2="495.60" y2="328.30" stroke="#161616" stroke-width="1.15"/>
<line x1="487.90" y1="287.10" x2="487.90" y2="328.30" stroke="#3f7f3f" stroke-width="0.6" stroke-dasharray="3 2" stroke-opacity="0.8"/>
<line x1="495.00" y1="287.10" x2="495.00" y2="328.30" stroke="#3f7f3f" stroke-width="0.6" stroke-dasharray="3 2" stroke-opacity="0.8"/>
<line x1="491.45" y1="287.10" x2="491.45" y2="328.30" stroke="#e8857a" stroke-width="0.6" stroke-dasharray="9 2.5 2 2.5" stroke-opacity="0.9"/>
<line x1="487.30" y1="287.10" x2="495.60" y2="287.10" stroke="#7b7fd8" stroke-width="0.7"/>
<line x1="487.30" y1="378.30" x2="487.30" y2="446.70" stroke="#161616" stroke-width="1.15"/>
<line x1="495.60" y1="378.30" x2="495.60" y2="446.70" stroke="#161616" stroke-width="1.15"/>
<line x1="487.90" y1="378.30" x2="487.90" y2="446.70" stroke="#3f7f3f" stroke-width="0.6" stroke-dasharray="3 2" stroke-opacity="0.8"/>
<line x1="495.00" y1="378.30" x2="495.00" y2="446.70" stroke="#3f7f3f" stroke-width="0.6" stroke-dasharray="3 2" stroke-opacity="0.8"/>
<line x1="491.45" y1="378.30" x2="491.45" y2="446.70" stroke="#e8857a" stroke-width="0.6" stroke-dasharray="9 2.5 2 2.5" stroke-opacity="0.9"/>
<line x1="487.30" y1="378.30" x2="495.60" y2="378.30" stroke="#161616" stroke-width="1.0"/>
<line x1="487.30" y1="454.40" x2="487.30" y2="523.10" stroke="#161616" stroke-width="1.15"/>
<line x1="495.60" y1="454.40" x2="495.60" y2="523.10" stroke="#161616" stroke-width="1.15"/>
<line x1="487.90" y1="454.40" x2="487.90" y2="523.10" stroke="#3f7f3f" stroke-width="0.6" stroke-dasharray="3 2" stroke-opacity="0.8"/>
<line x1="495.00" y1="454.40" x2="495.00" y2="523.10" stroke="#3f7f3f" stroke-width="0.6" stroke-dasharray="3 2" stroke-opacity="0.8"/>
<line x1="491.45" y1="454.40" x2="491.45" y2="523.10" stroke="#e8857a" stroke-width="0.6" stroke-dasharray="9 2.5 2 2.5" stroke-opacity="0.9"/>
<line x1="487.30" y1="523.10" x2="495.60" y2="523.10" stroke="#161616" stroke-width="1.0"/>
<line x1="495.00" y1="505.00" x2="495.00" y2="517.00" stroke="#2f9a2f" stroke-width="0.7"/>
<rect x="191.00" y="328.30" width="9.60" height="9.50" rx="0" fill="none" stroke="#161616" stroke-width="1.0"/>
<rect x="585.50" y="328.30" width="10.20" height="9.50" rx="0" fill="none" stroke="#161616" stroke-width="1.0"/>
<rect x="183.30" y="328.30" width="7.70" height="9.50" rx="0" fill="none" stroke="#161616" stroke-width="0.8"/>
<rect x="595.70" y="328.30" width="7.30" height="9.50" rx="0" fill="none" stroke="#161616" stroke-width="0.8"/>
<path d="M200.8 322.6 L202.4 324.4 L202.4 326.6 L200.8 327.6" fill="none" stroke="#161616" stroke-width="0.9"/>
<path d="M595.7 322.6 L597.3 324.4 L597.3 326.6 L595.7 327.6" fill="none" stroke="#161616" stroke-width="0.9"/>
<line x1="172.20" y1="333.20" x2="191.00" y2="333.20" stroke="#3a1208" stroke-width="1.0"/>
<circle cx="175.00" cy="333.20" r="1.35" fill="#2a1008" stroke="#161616" stroke-width="0.7"/>
<circle cx="179.70" cy="333.20" r="1.35" fill="#2a1008" stroke="#161616" stroke-width="0.7"/>
<circle cx="186.80" cy="333.20" r="1.6" fill="#b5501e" stroke="#161616" stroke-width="0.6"/>
<circle cx="600.20" cy="333.20" r="1.5" fill="#a0441e" stroke="#161616" stroke-width="0.5"/>
<line x1="601.50" y1="333.20" x2="609.00" y2="333.20" stroke="#161616" stroke-width="1.0"/>
<circle cx="204.50" cy="332.60" r="1.0" fill="#1f8a1f" stroke="#1f8a1f" stroke-width="0.4"/>
<circle cx="582.60" cy="333.20" r="0.9" fill="#2f8a2f" stroke="#2f8a2f" stroke-width="0.4"/>
<line x1="173.00" y1="567.60" x2="178.40" y2="567.60" stroke="#161616" stroke-width="1.0"/>
<circle cx="175.20" cy="567.60" r="1.4" fill="#5a2a1a" stroke="#161616" stroke-width="0.5"/>
<line x1="602.80" y1="567.60" x2="609.00" y2="567.60" stroke="#161616" stroke-width="0.9"/>
<circle cx="184.30" cy="567.60" r="1.0" fill="#2f8a2f" stroke="#2f8a2f" stroke-width="0.4"/>
<circle cx="204.20" cy="567.60" r="1.0" fill="#2f8a2f" stroke="#2f8a2f" stroke-width="0.4"/>
<circle cx="581.70" cy="567.60" r="1.0" fill="#2f8a2f" stroke="#2f8a2f" stroke-width="0.4"/>
<circle cx="599.20" cy="567.60" r="1.0" fill="#2f8a2f" stroke="#2f8a2f" stroke-width="0.4"/>
<circle cx="190.20" cy="367.80" r="0.9" fill="#2a3bd0" stroke="#2a3bd0" stroke-width="0.3"/>
<circle cx="201.00" cy="367.80" r="0.9" fill="#2a3bd0" stroke="#2a3bd0" stroke-width="0.3"/>
<line x1="191.00" y1="367.80" x2="200.60" y2="367.80" stroke="#3f7f3f" stroke-width="0.5" stroke-dasharray="2 1.5" stroke-opacity="0.7"/>
<circle cx="190.20" cy="381.10" r="0.9" fill="#2a3bd0" stroke="#2a3bd0" stroke-width="0.3"/>
<circle cx="201.00" cy="381.10" r="0.9" fill="#2a3bd0" stroke="#2a3bd0" stroke-width="0.3"/>
<line x1="191.00" y1="381.10" x2="200.60" y2="381.10" stroke="#3f7f3f" stroke-width="0.5" stroke-dasharray="2 1.5" stroke-opacity="0.7"/>
<circle cx="190.20" cy="520.20" r="0.9" fill="#2a3bd0" stroke="#2a3bd0" stroke-width="0.3"/>
<circle cx="201.00" cy="520.20" r="0.9" fill="#2a3bd0" stroke="#2a3bd0" stroke-width="0.3"/>
<line x1="191.00" y1="520.20" x2="200.60" y2="520.20" stroke="#3f7f3f" stroke-width="0.5" stroke-dasharray="2 1.5" stroke-opacity="0.7"/>
<circle cx="190.20" cy="533.50" r="0.9" fill="#2a3bd0" stroke="#2a3bd0" stroke-width="0.3"/>
<circle cx="201.00" cy="533.50" r="0.9" fill="#2a3bd0" stroke="#2a3bd0" stroke-width="0.3"/>
<line x1="191.00" y1="533.50" x2="200.60" y2="533.50" stroke="#3f7f3f" stroke-width="0.5" stroke-dasharray="2 1.5" stroke-opacity="0.7"/>
<circle cx="190.40" cy="444.00" r="0.9" fill="#161616" stroke="#161616" stroke-width="0.3"/>
<circle cx="201.00" cy="444.00" r="0.9" fill="#161616" stroke="#161616" stroke-width="0.3"/>
<line x1="191.00" y1="444.00" x2="200.60" y2="444.00" stroke="#3f7f3f" stroke-width="0.5" stroke-dasharray="2 1.5" stroke-opacity="0.7"/>
<circle cx="190.40" cy="457.00" r="0.9" fill="#161616" stroke="#161616" stroke-width="0.3"/>
<circle cx="201.00" cy="457.00" r="0.9" fill="#161616" stroke="#161616" stroke-width="0.3"/>
<line x1="191.00" y1="457.00" x2="200.60" y2="457.00" stroke="#3f7f3f" stroke-width="0.5" stroke-dasharray="2 1.5" stroke-opacity="0.7"/>
<circle cx="201.00" cy="327.00" r="0.9" fill="#161616" stroke="#161616" stroke-width="0.3"/>
<circle cx="201.00" cy="560.50" r="0.9" fill="#161616" stroke="#161616" stroke-width="0.3"/>
<circle cx="190.60" cy="560.50" r="0.9" fill="#161616" stroke="#161616" stroke-width="0.3"/>
<circle cx="584.70" cy="367.80" r="0.9" fill="#2a3bd0" stroke="#2a3bd0" stroke-width="0.3"/>
<circle cx="596.10" cy="367.80" r="0.9" fill="#2a3bd0" stroke="#2a3bd0" stroke-width="0.3"/>
<line x1="585.50" y1="367.80" x2="595.70" y2="367.80" stroke="#3f7f3f" stroke-width="0.5" stroke-dasharray="2 1.5" stroke-opacity="0.7"/>
<circle cx="584.70" cy="381.10" r="0.9" fill="#2a3bd0" stroke="#2a3bd0" stroke-width="0.3"/>
<circle cx="596.10" cy="381.10" r="0.9" fill="#2a3bd0" stroke="#2a3bd0" stroke-width="0.3"/>
<line x1="585.50" y1="381.10" x2="595.70" y2="381.10" stroke="#3f7f3f" stroke-width="0.5" stroke-dasharray="2 1.5" stroke-opacity="0.7"/>
<circle cx="584.70" cy="520.20" r="0.9" fill="#2a3bd0" stroke="#2a3bd0" stroke-width="0.3"/>
<circle cx="596.10" cy="520.20" r="0.9" fill="#2a3bd0" stroke="#2a3bd0" stroke-width="0.3"/>
<line x1="585.50" y1="520.20" x2="595.70" y2="520.20" stroke="#3f7f3f" stroke-width="0.5" stroke-dasharray="2 1.5" stroke-opacity="0.7"/>
<circle cx="584.70" cy="533.50" r="0.9" fill="#2a3bd0" stroke="#2a3bd0" stroke-width="0.3"/>
<circle cx="596.10" cy="533.50" r="0.9" fill="#2a3bd0" stroke="#2a3bd0" stroke-width="0.3"/>
<line x1="585.50" y1="533.50" x2="595.70" y2="533.50" stroke="#3f7f3f" stroke-width="0.5" stroke-dasharray="2 1.5" stroke-opacity="0.7"/>
<circle cx="584.90" cy="444.00" r="0.9" fill="#161616" stroke="#161616" stroke-width="0.3"/>
<circle cx="596.10" cy="444.00" r="0.9" fill="#161616" stroke="#161616" stroke-width="0.3"/>
<line x1="585.50" y1="444.00" x2="595.70" y2="444.00" stroke="#3f7f3f" stroke-width="0.5" stroke-dasharray="2 1.5" stroke-opacity="0.7"/>
<circle cx="584.90" cy="457.00" r="0.9" fill="#161616" stroke="#161616" stroke-width="0.3"/>
<circle cx="596.10" cy="457.00" r="0.9" fill="#161616" stroke="#161616" stroke-width="0.3"/>
<line x1="585.50" y1="457.00" x2="595.70" y2="457.00" stroke="#3f7f3f" stroke-width="0.5" stroke-dasharray="2 1.5" stroke-opacity="0.7"/>
<circle cx="596.10" cy="327.00" r="0.9" fill="#161616" stroke="#161616" stroke-width="0.3"/>
<circle cx="596.10" cy="560.50" r="0.9" fill="#161616" stroke="#161616" stroke-width="0.3"/>
<circle cx="585.10" cy="560.50" r="0.9" fill="#161616" stroke="#161616" stroke-width="0.3"/>
<line x1="161.70" y1="337.80" x2="161.70" y2="563.50" stroke="#6f6ad6" stroke-width="0.68"/>
<line x1="158.60" y1="337.80" x2="169.50" y2="337.80" stroke="#6f6ad6" stroke-width="0.68"/>
<line x1="158.60" y1="370.70" x2="169.50" y2="370.70" stroke="#6f6ad6" stroke-width="0.68"/>
<line x1="158.60" y1="530.40" x2="169.50" y2="530.40" stroke="#6f6ad6" stroke-width="0.68"/>
<line x1="158.60" y1="563.50" x2="169.50" y2="563.50" stroke="#6f6ad6" stroke-width="0.68"/>
<text transform="translate(160.00 354.30) rotate(-90) scale(0.853 1)" font-size="8.9" text-anchor="middle" fill="#111" stroke="#111" stroke-width="0.1">350</text>
<text transform="translate(160.00 450.20) rotate(-90) scale(0.853 1)" font-size="8.9" text-anchor="middle" fill="#111" stroke="#111" stroke-width="0.1">1706</text>
<text transform="translate(160.00 547.00) rotate(-90) scale(0.853 1)" font-size="8.9" text-anchor="middle" fill="#111" stroke="#111" stroke-width="0.1">350</text>
<line x1="375.60" y1="337.80" x2="375.60" y2="563.90" stroke="#6f6ad6" stroke-width="0.68"/>
<rect x="366.60" y="351.10" width="8.40" height="14.20" rx="1" fill="#fff27e" stroke="none" stroke-width="0"/>
<rect x="366.60" y="536.00" width="8.40" height="14.20" rx="1" fill="#fff27e" stroke="none" stroke-width="0"/>
<text transform="translate(373.40 358.20) rotate(-90) scale(0.853 1)" font-size="8.9" text-anchor="middle" fill="#111" stroke="#111" stroke-width="0.1">430</text>
<text transform="translate(373.40 543.10) rotate(-90) scale(0.853 1)" font-size="8.9" text-anchor="middle" fill="#111" stroke="#111" stroke-width="0.1">430</text>
<text transform="translate(373.40 450.20) rotate(-90) scale(0.853 1)" font-size="8.9" text-anchor="middle" fill="#111" stroke="#111" stroke-width="0.1">1546</text>
<line x1="417.80" y1="370.20" x2="428.40" y2="353.60" stroke="#7da58a" stroke-width="0.6"/>
<text transform="translate(428.90 358.90) scale(0.853 1)" font-size="8.9" text-anchor="start" fill="#111" stroke="#111" stroke-width="0.1">101: RRK 100x80x6</text>
<line x1="419.60" y1="528.00" x2="429.30" y2="544.00" stroke="#7da58a" stroke-width="0.6"/>
<text transform="translate(430.40 548.30) scale(0.853 1)" font-size="8.9" text-anchor="start" fill="#111" stroke="#111" stroke-width="0.1">101: RRK 100x80x6</text>
<polygon points="1023.40,356.00 1031.00,356.00 1031.00,404.70 1023.40,403.90" fill="#3f6eb9" stroke="#17387c" stroke-width="0.5" stroke-linejoin="round"/>
<polygon points="1031.00,356.00 1033.40,354.80 1033.40,403.10 1031.00,404.70" fill="#31599f" stroke="#17387c" stroke-width="0.5" stroke-linejoin="round"/>
<polygon points="745.03,320.95 1020.03,354.64 1020.03,362.04 745.03,328.35" fill="#3463ad" stroke="#17387c" stroke-width="0.5" stroke-linejoin="round"/>
<polygon points="747.66,317.45 1022.66,351.14 1020.03,354.64 745.03,320.95" fill="#4f87dd" stroke="#17387c" stroke-width="0.45" stroke-linejoin="round"/>
<line x1="745.63" y1="320.05" x2="1019.43" y2="353.74" stroke="#8dbaf3" stroke-width="0.9" stroke-opacity="0.75"/>
<line x1="745.63" y1="324.28" x2="1019.43" y2="357.97" stroke="#4f80c8" stroke-width="1.8" stroke-opacity="0.5"/>
<line x1="745.03" y1="328.35" x2="1020.03" y2="362.04" stroke="#102a62" stroke-width="1.0"/>
<line x1="747.66" y1="317.45" x2="1022.66" y2="351.14" stroke="#102a62" stroke-width="0.8"/>
<polygon points="747.66,317.45 745.03,320.95 745.03,328.35 747.46,325.20" fill="#2a539e" stroke="#17387c" stroke-width="0.4" stroke-linejoin="round"/>
<polygon points="798.20,338.00 806.40,338.00 806.40,376.00 798.20,375.20" fill="#3f6eb9" stroke="#17387c" stroke-width="0.5" stroke-linejoin="round"/>
<polygon points="806.40,338.00 808.80,336.80 808.80,374.40 806.40,376.00" fill="#31599f" stroke="#17387c" stroke-width="0.5" stroke-linejoin="round"/>
<polygon points="657.01,433.83 711.51,440.51 711.51,447.91 657.01,441.23" fill="#3463ad" stroke="#17387c" stroke-width="0.5" stroke-linejoin="round"/>
<polygon points="659.64,430.33 714.14,437.01 711.51,440.51 657.01,433.83" fill="#4f87dd" stroke="#17387c" stroke-width="0.45" stroke-linejoin="round"/>
<line x1="657.61" y1="432.94" x2="710.91" y2="439.61" stroke="#8dbaf3" stroke-width="0.9" stroke-opacity="0.75"/>
<line x1="657.61" y1="437.16" x2="710.91" y2="443.84" stroke="#4f80c8" stroke-width="1.8" stroke-opacity="0.5"/>
<line x1="657.01" y1="441.23" x2="711.51" y2="447.91" stroke="#102a62" stroke-width="1.0"/>
<line x1="659.64" y1="430.33" x2="714.14" y2="437.01" stroke="#102a62" stroke-width="0.8"/>
<polygon points="659.64,430.33 657.01,433.83 657.01,441.23 659.44,438.08" fill="#2a539e" stroke="#17387c" stroke-width="0.4" stroke-linejoin="round"/>
<polygon points="685.35,396.08 739.85,402.76 739.85,410.16 685.35,403.48" fill="#3463ad" stroke="#17387c" stroke-width="0.5" stroke-linejoin="round"/>
<polygon points="687.98,392.58 742.48,399.26 739.85,402.76 685.35,396.08" fill="#4f87dd" stroke="#17387c" stroke-width="0.45" stroke-linejoin="round"/>
<line x1="685.95" y1="395.19" x2="739.25" y2="401.86" stroke="#8dbaf3" stroke-width="0.9" stroke-opacity="0.75"/>
<line x1="685.95" y1="399.41" x2="739.25" y2="406.09" stroke="#4f80c8" stroke-width="1.8" stroke-opacity="0.5"/>
<line x1="685.35" y1="403.48" x2="739.85" y2="410.16" stroke="#102a62" stroke-width="1.0"/>
<line x1="687.98" y1="392.58" x2="742.48" y2="399.26" stroke="#102a62" stroke-width="0.8"/>
<polygon points="687.98,392.58 685.35,396.08 685.35,403.48 687.78,400.33" fill="#2a539e" stroke="#17387c" stroke-width="0.4" stroke-linejoin="round"/>
<polygon points="713.69,358.33 768.19,365.01 768.19,372.41 713.69,365.73" fill="#3463ad" stroke="#17387c" stroke-width="0.5" stroke-linejoin="round"/>
<polygon points="716.32,354.83 770.82,361.51 768.19,365.01 713.69,358.33" fill="#4f87dd" stroke="#17387c" stroke-width="0.45" stroke-linejoin="round"/>
<line x1="714.29" y1="357.44" x2="767.59" y2="364.11" stroke="#8dbaf3" stroke-width="0.9" stroke-opacity="0.75"/>
<line x1="714.29" y1="361.66" x2="767.59" y2="368.34" stroke="#4f80c8" stroke-width="1.8" stroke-opacity="0.5"/>
<line x1="713.69" y1="365.73" x2="768.19" y2="372.41" stroke="#102a62" stroke-width="1.0"/>
<line x1="716.32" y1="354.83" x2="770.82" y2="361.51" stroke="#102a62" stroke-width="0.8"/>
<polygon points="716.32,354.83 713.69,358.33 713.69,365.73 716.12,362.58" fill="#2a539e" stroke="#17387c" stroke-width="0.4" stroke-linejoin="round"/>
<polygon points="804.89,328.10 806.20,343.12 698.75,486.00 690.66,480.00" fill="#497ecd" stroke="#17387c" stroke-width="0.45" stroke-linejoin="round"/>
<polygon points="801.64,327.70 804.89,328.10 690.66,480.00 686.66,480.00" fill="#5a8ed9" stroke="#2d59a6" stroke-width="0.35" stroke-linejoin="round"/>
<polygon points="795.64,327.10 801.64,327.70 686.66,480.00 680.66,480.00" fill="#5f94df" stroke="#17387c" stroke-width="0.45" stroke-linejoin="round"/>
<line x1="803.24" y1="328.10" x2="688.26" y2="480.00" stroke="#8ab8f2" stroke-width="0.7" stroke-opacity="0.6"/>
<line x1="795.64" y1="327.10" x2="680.66" y2="480.00" stroke="#17387c" stroke-width="0.7"/>
<line x1="806.20" y1="343.12" x2="698.75" y2="486.00" stroke="#17387c" stroke-width="0.9"/>
<circle cx="780.40" cy="362.40" r="0.6" fill="#b8285a" stroke="#b8285a" stroke-width="0.1"/>
<circle cx="780.40" cy="367.00" r="0.6" fill="#b8285a" stroke="#b8285a" stroke-width="0.1"/>
<circle cx="776.40" cy="367.70" r="0.6" fill="#b8285a" stroke="#b8285a" stroke-width="0.1"/>
<circle cx="776.40" cy="372.30" r="0.6" fill="#b8285a" stroke="#b8285a" stroke-width="0.1"/>
<circle cx="751.30" cy="400.70" r="0.6" fill="#b8285a" stroke="#b8285a" stroke-width="0.1"/>
<circle cx="751.30" cy="405.30" r="0.6" fill="#b8285a" stroke="#b8285a" stroke-width="0.1"/>
<circle cx="747.30" cy="406.00" r="0.6" fill="#b8285a" stroke="#b8285a" stroke-width="0.1"/>
<circle cx="747.30" cy="410.60" r="0.6" fill="#b8285a" stroke="#b8285a" stroke-width="0.1"/>
<circle cx="722.30" cy="438.60" r="0.6" fill="#b8285a" stroke="#b8285a" stroke-width="0.1"/>
<circle cx="722.30" cy="443.20" r="0.6" fill="#b8285a" stroke="#b8285a" stroke-width="0.1"/>
<circle cx="718.30" cy="443.90" r="0.6" fill="#b8285a" stroke="#b8285a" stroke-width="0.1"/>
<circle cx="718.30" cy="448.50" r="0.6" fill="#b8285a" stroke="#b8285a" stroke-width="0.1"/>
<polygon points="731.55,481.46 843.25,332.66 843.25,340.06 731.55,488.86" fill="#4375c5" stroke="#17387c" stroke-width="0.5" stroke-linejoin="round"/>
<polygon points="724.75,480.62 836.45,331.82 843.25,332.66 731.55,481.46" fill="#4f87dd" stroke="#17387c" stroke-width="0.45" stroke-linejoin="round"/>
<line x1="724.75" y1="480.62" x2="836.45" y2="331.82" stroke="#122e6a" stroke-width="0.85"/>
<line x1="731.55" y1="488.86" x2="843.25" y2="340.06" stroke="#122e6a" stroke-width="0.85"/>
<line x1="727.81" y1="481.00" x2="839.51" y2="332.20" stroke="#8dbaf3" stroke-width="0.8" stroke-opacity="0.55"/>
<line x1="731.55" y1="485.16" x2="843.25" y2="336.36" stroke="#3b6cb8" stroke-width="1.2" stroke-opacity="0.6"/>
<polygon points="757.81,446.18 824.61,454.37 824.61,461.77 757.81,453.58" fill="#3463ad" stroke="#17387c" stroke-width="0.5" stroke-linejoin="round"/>
<polygon points="760.44,442.68 827.24,450.87 824.61,454.37 757.81,446.18" fill="#4f87dd" stroke="#17387c" stroke-width="0.45" stroke-linejoin="round"/>
<line x1="758.41" y1="445.28" x2="824.01" y2="453.47" stroke="#8dbaf3" stroke-width="0.9" stroke-opacity="0.75"/>
<line x1="758.41" y1="449.51" x2="824.01" y2="457.70" stroke="#4f80c8" stroke-width="1.8" stroke-opacity="0.5"/>
<line x1="757.81" y1="453.58" x2="824.61" y2="461.77" stroke="#102a62" stroke-width="1.0"/>
<line x1="760.44" y1="442.68" x2="827.24" y2="450.87" stroke="#102a62" stroke-width="0.8"/>
<polygon points="786.15,408.43 852.95,416.62 852.95,424.02 786.15,415.83" fill="#3463ad" stroke="#17387c" stroke-width="0.5" stroke-linejoin="round"/>
<polygon points="788.78,404.93 855.58,413.12 852.95,416.62 786.15,408.43" fill="#4f87dd" stroke="#17387c" stroke-width="0.45" stroke-linejoin="round"/>
<line x1="786.75" y1="407.53" x2="852.35" y2="415.72" stroke="#8dbaf3" stroke-width="0.9" stroke-opacity="0.75"/>
<line x1="786.75" y1="411.76" x2="852.35" y2="419.95" stroke="#4f80c8" stroke-width="1.8" stroke-opacity="0.5"/>
<line x1="786.15" y1="415.83" x2="852.95" y2="424.02" stroke="#102a62" stroke-width="1.0"/>
<line x1="788.78" y1="404.93" x2="855.58" y2="413.12" stroke="#102a62" stroke-width="0.8"/>
<polygon points="814.49,370.68 881.29,378.87 881.29,386.27 814.49,378.08" fill="#3463ad" stroke="#17387c" stroke-width="0.5" stroke-linejoin="round"/>
<polygon points="817.12,367.18 883.92,375.37 881.29,378.87 814.49,370.68" fill="#4f87dd" stroke="#17387c" stroke-width="0.45" stroke-linejoin="round"/>
<line x1="815.09" y1="369.78" x2="880.69" y2="377.97" stroke="#8dbaf3" stroke-width="0.9" stroke-opacity="0.75"/>
<line x1="815.09" y1="374.01" x2="880.69" y2="382.20" stroke="#4f80c8" stroke-width="1.8" stroke-opacity="0.5"/>
<line x1="814.49" y1="378.08" x2="881.29" y2="386.27" stroke="#102a62" stroke-width="1.0"/>
<line x1="817.12" y1="367.18" x2="883.92" y2="375.37" stroke="#102a62" stroke-width="0.8"/>
<polygon points="804.55,490.40 916.25,341.60 916.25,349.00 804.55,497.80" fill="#4375c5" stroke="#17387c" stroke-width="0.5" stroke-linejoin="round"/>
<polygon points="797.75,489.57 909.45,340.77 916.25,341.60 804.55,490.40" fill="#4f87dd" stroke="#17387c" stroke-width="0.45" stroke-linejoin="round"/>
<line x1="797.75" y1="489.57" x2="909.45" y2="340.77" stroke="#122e6a" stroke-width="0.85"/>
<line x1="804.55" y1="497.80" x2="916.25" y2="349.00" stroke="#122e6a" stroke-width="0.85"/>
<line x1="800.81" y1="489.94" x2="912.51" y2="341.14" stroke="#8dbaf3" stroke-width="0.8" stroke-opacity="0.55"/>
<line x1="804.55" y1="494.10" x2="916.25" y2="345.30" stroke="#3b6cb8" stroke-width="1.2" stroke-opacity="0.6"/>
<polygon points="830.81,455.13 897.71,463.32 897.71,470.72 830.81,462.53" fill="#3463ad" stroke="#17387c" stroke-width="0.5" stroke-linejoin="round"/>
<polygon points="833.44,451.63 900.34,459.82 897.71,463.32 830.81,455.13" fill="#4f87dd" stroke="#17387c" stroke-width="0.45" stroke-linejoin="round"/>
<line x1="831.41" y1="454.23" x2="897.11" y2="462.42" stroke="#8dbaf3" stroke-width="0.9" stroke-opacity="0.75"/>
<line x1="831.41" y1="458.46" x2="897.11" y2="466.65" stroke="#4f80c8" stroke-width="1.8" stroke-opacity="0.5"/>
<line x1="830.81" y1="462.53" x2="897.71" y2="470.72" stroke="#102a62" stroke-width="1.0"/>
<line x1="833.44" y1="451.63" x2="900.34" y2="459.82" stroke="#102a62" stroke-width="0.8"/>
<polygon points="859.15,417.38 926.05,425.57 926.05,432.97 859.15,424.78" fill="#3463ad" stroke="#17387c" stroke-width="0.5" stroke-linejoin="round"/>
<polygon points="861.78,413.88 928.68,422.07 926.05,425.57 859.15,417.38" fill="#4f87dd" stroke="#17387c" stroke-width="0.45" stroke-linejoin="round"/>
<line x1="859.75" y1="416.48" x2="925.45" y2="424.67" stroke="#8dbaf3" stroke-width="0.9" stroke-opacity="0.75"/>
<line x1="859.75" y1="420.71" x2="925.45" y2="428.90" stroke="#4f80c8" stroke-width="1.8" stroke-opacity="0.5"/>
<line x1="859.15" y1="424.78" x2="926.05" y2="432.97" stroke="#102a62" stroke-width="1.0"/>
<line x1="861.78" y1="413.88" x2="928.68" y2="422.07" stroke="#102a62" stroke-width="0.8"/>
<polygon points="887.49,379.63 954.39,387.82 954.39,395.22 887.49,387.03" fill="#3463ad" stroke="#17387c" stroke-width="0.5" stroke-linejoin="round"/>
<polygon points="890.12,376.13 957.02,384.32 954.39,387.82 887.49,379.63" fill="#4f87dd" stroke="#17387c" stroke-width="0.45" stroke-linejoin="round"/>
<line x1="888.09" y1="378.73" x2="953.79" y2="386.92" stroke="#8dbaf3" stroke-width="0.9" stroke-opacity="0.75"/>
<line x1="888.09" y1="382.96" x2="953.79" y2="391.15" stroke="#4f80c8" stroke-width="1.8" stroke-opacity="0.5"/>
<line x1="887.49" y1="387.03" x2="954.39" y2="395.22" stroke="#102a62" stroke-width="1.0"/>
<line x1="890.12" y1="376.13" x2="957.02" y2="384.32" stroke="#102a62" stroke-width="0.8"/>
<polygon points="877.65,499.35 989.35,350.55 989.35,357.95 877.65,506.75" fill="#4375c5" stroke="#17387c" stroke-width="0.5" stroke-linejoin="round"/>
<polygon points="870.85,498.52 982.55,349.72 989.35,350.55 877.65,499.35" fill="#4f87dd" stroke="#17387c" stroke-width="0.45" stroke-linejoin="round"/>
<line x1="870.85" y1="498.52" x2="982.55" y2="349.72" stroke="#122e6a" stroke-width="0.85"/>
<line x1="877.65" y1="506.75" x2="989.35" y2="357.95" stroke="#122e6a" stroke-width="0.85"/>
<line x1="873.91" y1="498.90" x2="985.61" y2="350.10" stroke="#8dbaf3" stroke-width="0.8" stroke-opacity="0.55"/>
<line x1="877.65" y1="503.05" x2="989.35" y2="354.25" stroke="#3b6cb8" stroke-width="1.2" stroke-opacity="0.6"/>
<circle cx="833.65" cy="333.85" r="1.05" fill="#0f1830" stroke="#0f1830" stroke-width="0.1"/>
<rect x="844.83" y="335.52" width="1.70" height="1.70" rx="0" fill="#0f1830" stroke="none" stroke-width="0"/>
<rect x="844.83" y="338.72" width="1.70" height="1.70" rx="0" fill="#0f1830" stroke="none" stroke-width="0"/>
<circle cx="906.65" cy="342.80" r="1.05" fill="#0f1830" stroke="#0f1830" stroke-width="0.1"/>
<rect x="917.83" y="344.47" width="1.70" height="1.70" rx="0" fill="#0f1830" stroke="none" stroke-width="0"/>
<rect x="917.83" y="347.67" width="1.70" height="1.70" rx="0" fill="#0f1830" stroke="none" stroke-width="0"/>
<circle cx="979.75" cy="351.75" r="1.05" fill="#0f1830" stroke="#0f1830" stroke-width="0.1"/>
<rect x="990.93" y="353.42" width="1.70" height="1.70" rx="0" fill="#0f1830" stroke="none" stroke-width="0"/>
<rect x="990.93" y="356.62" width="1.70" height="1.70" rx="0" fill="#0f1830" stroke="none" stroke-width="0"/>
<circle cx="793.15" cy="328.89" r="0.9" fill="#14203a" stroke="#14203a" stroke-width="0.1"/>
<polygon points="681.30,481.00 689.80,481.00 689.80,528.80 681.30,528.00" fill="#3f6eb9" stroke="#17387c" stroke-width="0.5" stroke-linejoin="round"/>
<polygon points="689.80,481.00 692.20,479.80 692.20,527.20 689.80,528.80" fill="#31599f" stroke="#17387c" stroke-width="0.5" stroke-linejoin="round"/>
<polygon points="628.67,471.58 905.17,505.46 905.17,512.86 628.67,478.98" fill="#3463ad" stroke="#17387c" stroke-width="0.5" stroke-linejoin="round"/>
<polygon points="631.30,468.08 907.80,501.96 905.17,505.46 628.67,471.58" fill="#4f87dd" stroke="#17387c" stroke-width="0.45" stroke-linejoin="round"/>
<line x1="629.27" y1="470.69" x2="904.57" y2="504.56" stroke="#8dbaf3" stroke-width="0.9" stroke-opacity="0.75"/>
<line x1="629.27" y1="474.91" x2="904.57" y2="508.79" stroke="#4f80c8" stroke-width="1.8" stroke-opacity="0.5"/>
<line x1="628.67" y1="478.98" x2="905.17" y2="512.86" stroke="#102a62" stroke-width="1.0"/>
<line x1="631.30" y1="468.08" x2="907.80" y2="501.96" stroke="#102a62" stroke-width="0.8"/>
<polygon points="631.30,468.08 628.67,471.58 628.67,478.98 631.10,475.83" fill="#2a539e" stroke="#17387c" stroke-width="0.4" stroke-linejoin="round"/>
<line x1="690.20" y1="476.60" x2="690.20" y2="489.20" stroke="#1b3a7c" stroke-width="0.8"/>
<polygon points="905.40,511.00 913.80,511.00 913.80,556.20 905.40,555.40" fill="#3f6eb9" stroke="#17387c" stroke-width="0.5" stroke-linejoin="round"/>
<polygon points="913.80,511.00 916.20,509.80 916.20,554.60 913.80,556.20" fill="#31599f" stroke="#17387c" stroke-width="0.5" stroke-linejoin="round"/>
<polygon points="909.50,492.50 1034.70,329.30 1038.70,330.30 1038.70,358.00 918.55,518.20 913.40,512.00 913.40,495.00 909.60,494.60" fill="#4472bb" stroke="#17387c" stroke-width="0.6" stroke-linejoin="round"/>
<polygon points="1038.70,350.55 1038.70,358.00 918.55,518.20 913.60,512.00" fill="#4a80d1" stroke="#2c569f" stroke-width="0.4" stroke-linejoin="round"/>
<polygon points="909.50,492.50 1034.70,329.30 1038.70,330.20 913.00,494.90 909.60,494.60" fill="#5a93e6" stroke="none" stroke-width="0.5" stroke-linejoin="round"/>
<line x1="913.00" y1="495.40" x2="1038.70" y2="331.00" stroke="#3561aa" stroke-width="0.6" stroke-opacity="0.8"/>
<line x1="909.50" y1="492.50" x2="1034.70" y2="329.30" stroke="#142f6c" stroke-width="0.9"/>
<line x1="1038.70" y1="358.00" x2="918.55" y2="518.20" stroke="#142f6c" stroke-width="1.0"/>
<line x1="1038.30" y1="330.30" x2="1038.30" y2="358.00" stroke="#23468e" stroke-width="1.3"/>
<polygon points="903.00,502.60 913.20,497.50 913.20,511.00 903.00,512.60" fill="#5587d4" stroke="#17387c" stroke-width="0.4" stroke-linejoin="round"/>
<rect x="717.02" y="483.66" width="1.70" height="1.70" rx="0" fill="#0f1830" stroke="none" stroke-width="0"/>
<rect x="717.02" y="487.66" width="1.70" height="1.70" rx="0" fill="#0f1830" stroke="none" stroke-width="0"/>
<rect x="729.82" y="485.23" width="1.70" height="1.70" rx="0" fill="#0f1830" stroke="none" stroke-width="0"/>
<rect x="729.82" y="489.23" width="1.70" height="1.70" rx="0" fill="#0f1830" stroke="none" stroke-width="0"/>
<rect x="790.02" y="492.60" width="1.70" height="1.70" rx="0" fill="#0f1830" stroke="none" stroke-width="0"/>
<rect x="790.02" y="496.60" width="1.70" height="1.70" rx="0" fill="#0f1830" stroke="none" stroke-width="0"/>
<rect x="802.82" y="494.17" width="1.70" height="1.70" rx="0" fill="#0f1830" stroke="none" stroke-width="0"/>
<rect x="802.82" y="498.17" width="1.70" height="1.70" rx="0" fill="#0f1830" stroke="none" stroke-width="0"/>
<rect x="863.12" y="501.56" width="1.70" height="1.70" rx="0" fill="#0f1830" stroke="none" stroke-width="0"/>
<rect x="863.12" y="505.56" width="1.70" height="1.70" rx="0" fill="#0f1830" stroke="none" stroke-width="0"/>
<rect x="875.92" y="503.13" width="1.70" height="1.70" rx="0" fill="#0f1830" stroke="none" stroke-width="0"/>
<rect x="875.92" y="507.13" width="1.70" height="1.70" rx="0" fill="#0f1830" stroke="none" stroke-width="0"/>
<line x1="684.45" y1="474.18" x2="708.45" y2="477.12" stroke="#14203a" stroke-width="0.9"/>
<line x1="724.65" y1="479.10" x2="733.45" y2="480.18" stroke="#14203a" stroke-width="0.9"/>
<line x1="797.65" y1="488.04" x2="806.45" y2="489.12" stroke="#14203a" stroke-width="0.9"/>
<line x1="870.75" y1="497.00" x2="879.55" y2="498.08" stroke="#14203a" stroke-width="0.9"/>
<line x1="678.00" y1="497.90" x2="681.80" y2="494.90" stroke="#14203a" stroke-width="1.2"/>
<circle cx="679.20" cy="497.10" r="1.0" fill="#14203a" stroke="#14203a" stroke-width="0.1"/>
<line x1="680.20" y1="493.00" x2="680.20" y2="501.00" stroke="#1f3d80" stroke-width="0.8"/>
<line x1="902.60" y1="526.90" x2="906.40" y2="523.90" stroke="#14203a" stroke-width="1.2"/>
<circle cx="903.80" cy="526.10" r="1.0" fill="#14203a" stroke="#14203a" stroke-width="0.1"/>
<line x1="904.80" y1="522.00" x2="904.80" y2="530.00" stroke="#1f3d80" stroke-width="0.8"/>
</svg>
</body></html>
